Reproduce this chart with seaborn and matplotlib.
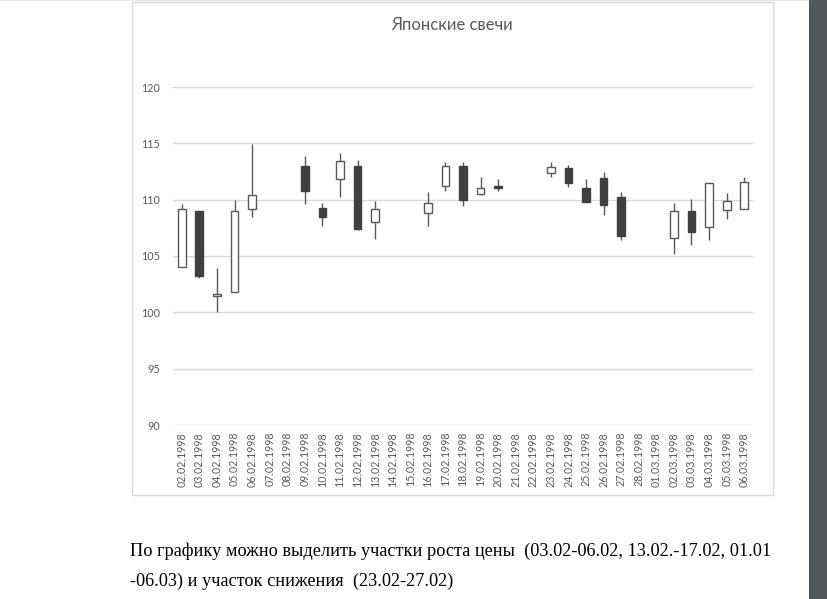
import numpy as np
import pandas as pd
import matplotlib
matplotlib.use("Agg")
import matplotlib.pyplot as plt
from matplotlib.patches import Rectangle
import seaborn as sns

# ---- data ----
dates = ["02.02.1998", "03.02.1998", "04.02.1998", "05.02.1998", "06.02.1998",
         "07.02.1998", "08.02.1998", "09.02.1998", "10.02.1998", "11.02.1998",
         "12.02.1998", "13.02.1998", "14.02.1998", "15.02.1998", "16.02.1998",
         "17.02.1998", "18.02.1998", "19.02.1998", "20.02.1998", "21.02.1998",
         "22.02.1998", "23.02.1998", "24.02.1998", "25.02.1998", "26.02.1998",
         "27.02.1998", "28.02.1998", "01.03.1998", "02.03.1998", "03.03.1998",
         "04.03.1998", "05.03.1998", "06.03.1998"]
nan = np.nan
open_ = [104.05, 108.95, 101.45, 101.8, 109.2, nan, nan, 113.0, 109.3, 111.8,
         112.95, 108.05, nan, nan, 108.8, 111.25, 113.0, 110.5, 111.2, nan,
         nan, 112.4, 112.8, 111.0, 111.95, 110.2, nan, nan, 106.6, 109.0,
         107.6, 109.1, 109.2]
high = [109.6, 108.95, 103.95, 110.0, 114.9, nan, nan, 113.9, 109.7, 114.1,
        113.5, 109.85, nan, nan, 110.7, 113.35, 113.3, 112.0, 111.8, nan,
        nan, 113.3, 113.1, 111.8, 112.5, 110.7, nan, nan, 109.7, 110.1,
        111.5, 110.6, 112.0]
low = [104.0, 103.05, 100.0, 101.8, 108.45, nan, nan, 109.65, 107.7, 110.2,
       107.3, 106.5, nan, nan, 107.7, 110.8, 109.45, 110.4, 110.8, nan,
       nan, 112.05, 111.1, 109.8, 108.65, 106.4, nan, nan, 105.2, 106.0,
       106.45, 108.25, 109.2]
close = [109.15, 103.2, 101.6, 109.0, 110.45, nan, nan, 110.75, 108.5, 113.4,
         107.4, 109.15, nan, nan, 109.7, 113.0, 110.0, 111.05, 111.05, nan,
         nan, 112.9, 111.45, 109.8, 109.5, 106.75, nan, nan, 108.95, 107.15,
         111.5, 109.9, 111.6]
y_ticks = [90, 95, 100, 105, 110, 115, 120]
title = "Японские свечи"
note_lines = ["По графику можно выделить участки роста цены  (03.02-06.02, 13.02.-17.02, 01.01",
              "-06.03) и участок снижения  (23.02-27.02)"]

df = pd.DataFrame({"date": dates, "open": open_, "high": high,
                   "low": low, "close": close})

# ---- style ----
sns.set_theme(style="white")
plt.rcParams["font.family"] = ["Lato", "DejaVu Sans"]

W, H = 827, 599
fig = plt.figure(figsize=(W / 100, H / 100), dpi=100)
fig.patch.set_facecolor("white")

def fx(px):
    return px / W

def fy(py):
    return 1 - py / H

# plot area
left, right, top, bottom = 173, 753, 87, 425
ax = fig.add_axes([fx(left), fy(bottom), fx(right - left), (bottom - top) / H])

pos = np.arange(len(df))
valid = df["open"].notna().values
up = (df["close"] >= df["open"]).values

# wicks
ax.vlines(pos[valid], df["low"][valid], df["high"][valid],
          colors="#595959", linewidth=1.0, zorder=2)
# bodies
body_bottom = np.minimum(df["open"], df["close"])
body_height = np.abs(df["close"] - df["open"])
bw = 0.44
ax.bar(pos[valid & up], body_height[valid & up], bottom=body_bottom[valid & up],
       width=bw, color="white", edgecolor="#595959", linewidth=1.0, zorder=3)
ax.bar(pos[valid & ~up], body_height[valid & ~up], bottom=body_bottom[valid & ~up],
       width=bw, color="#404040", edgecolor="#404040", linewidth=1.0, zorder=3)

ax.set_xlim(-0.5, len(df) - 0.5)
ax.set_ylim(90, 120)
ax.set_yticks(y_ticks)
ax.set_xticks(pos)
ax.set_xticklabels(dates, rotation=90, fontsize=7.7, color="#595959")
ax.tick_params(axis="y", labelsize=7.8, labelcolor="#595959", length=0, pad=9)
ax.tick_params(axis="x", length=0, pad=5)
for t in y_ticks:
    ax.axhline(t, color="#d9d9d9", linewidth=1.0, zorder=1)
for s in ax.spines.values():
    s.set_visible(False)
ax.grid(False)
ax.set_facecolor("white")

# title
fig.text(fx(452), fy(25), title, ha="center", va="center",
         fontsize=12, color="#595959")

# chart border
fig.patches.append(Rectangle((fx(131.5), fy(494.5)), fx(773 - 131.5), (494.5 - 1.5) / H,
                             transform=fig.transFigure, fill=False,
                             edgecolor="#d9d9d9", linewidth=1.0))
# top page edge
fig.patches.append(Rectangle((0, fy(1)), fx(809), 1 / H, transform=fig.transFigure,
                             facecolor="#e6e6e6", edgecolor="none"))
# right dark band
fig.patches.append(Rectangle((fx(809), 0), fx(W - 809), 1, transform=fig.transFigure,
                             facecolor="#52575b", edgecolor="none"))

# note text below
serif = ["Liberation Serif", "DejaVu Serif"]
fig.text(fx(130), fy(551), note_lines[0], ha="left", va="center",
         fontsize=13.15, family=serif, color="black")
fig.text(fx(130), fy(581), note_lines[1], ha="left", va="center",
         fontsize=13.15, family=serif, color="black")

fig.savefig("out.png", dpi=100)
